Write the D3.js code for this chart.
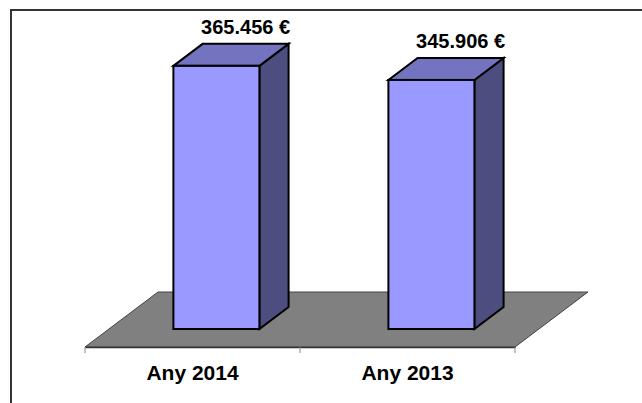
<!DOCTYPE html>
<html>
<head>
<meta charset="utf-8">
<script src="https://cdn.jsdelivr.net/npm/d3@7"></script>
<style>
  html, body { margin: 0; padding: 0; background: #fff; }
  svg { display: block; }
</style>
</head>
<body>
<div id="chart"></div>
<script>
// Import anual – comparativa 2014 / 2013 (columnes 3D)
const CATEGORIES = ["Any 2014", "Any 2013"];
const VALUES = [365456, 345906];
const Y_DOMAIN = [0, 400000];

const totalW = 642, totalH = 403;

/* ── Layout ── */
const floorFront = { left: 85, right: 515, y: 347 };
const floorDepth = { dx: 73, dy: -55 };
const barDepthStart = 18 / 55, barDepthEnd = 40 / 55;

const svg = d3.select("#chart").append("svg")
  .attr("width", totalW).attr("height", totalH);

/* ── Frame ── */
svg.append("rect")
  .attr("x", 11).attr("y", 10).attr("width", 700).attr("height", 450)
  .attr("fill", "#fff").attr("stroke", "#333").attr("stroke-width", 2);

/* ── Scales ── */
const x = d3.scaleBand().domain(CATEGORIES)
  .range([floorFront.left, floorFront.right]);
const h = d3.scaleLinear().domain(Y_DOMAIN).range([0, 288]);

const fmt = d3.formatLocale({ decimal: ",", thousands: ".", grouping: [3], currency: ["", " €"] }).format("$,d");

/* ── Floor ── */
const fl = floorFront;
svg.append("path")
  .attr("d", `M${fl.left},${fl.y} L${fl.left + floorDepth.dx},${fl.y + floorDepth.dy} L${fl.right + floorDepth.dx},${fl.y + floorDepth.dy} L${fl.right},${fl.y} Z`)
  .attr("fill", "#808080").attr("stroke", "#444").attr("stroke-width", 1);

/* ── Category axis ── */
const axis = svg.append("g").attr("transform", `translate(0,${fl.y})`)
  .call(d3.axisBottom(x).tickSize(0).tickPadding(18))
  .call(ax => ax.select(".domain").attr("stroke", "#333").attr("stroke-width", 1.5));
axis.selectAll("text")
  .attr("font-family", "Liberation Sans, Arial, sans-serif")
  .attr("font-size", 21).attr("font-weight", "bold").attr("fill", "#000");

const tickXs = CATEGORIES.map(c => x(c)).concat([fl.right]);
svg.append("g").selectAll("line").data(tickXs).join("line")
  .attr("x1", d => d).attr("x2", d => d)
  .attr("y1", fl.y).attr("y2", fl.y + 6)
  .attr("stroke", "#888").attr("stroke-width", 1);

/* ── Bars ── */
const data = CATEGORIES.map((c, i) => ({ cat: c, value: VALUES[i] }));
const bw = x.bandwidth() * 0.4;

data.forEach(d => {
  const ox = floorDepth.dx * barDepthStart, oy = floorDepth.dy * barDepthStart;
  const ddx = floorDepth.dx * (barDepthEnd - barDepthStart);
  const ddy = floorDepth.dy * (barDepthEnd - barDepthStart);
  const cx = x(d.cat) + x.bandwidth() / 2 + ox;
  const x0 = cx - bw / 2, x1 = cx + bw / 2;
  const yb = fl.y + oy, yt = yb - h(d.value);
  const g = svg.append("g")
    .attr("stroke", "#000").attr("stroke-width", 2).attr("stroke-linejoin", "miter");

  // side face
  g.append("path")
    .attr("d", `M${x1},${yt} L${x1 + ddx},${yt + ddy} L${x1 + ddx},${yb + ddy} L${x1},${yb} Z`)
    .attr("fill", "#4d4d80");
  // top face
  g.append("path")
    .attr("d", `M${x0},${yt} L${x0 + ddx},${yt + ddy} L${x1 + ddx},${yt + ddy} L${x1},${yt} Z`)
    .attr("fill", "#7373bf");
  // front face
  g.append("rect")
    .attr("x", x0).attr("y", yt).attr("width", bw).attr("height", yb - yt)
    .attr("fill", "#9999ff");

  svg.append("text")
    .attr("x", cx + ddx).attr("y", yt + ddy - 10)
    .attr("text-anchor", "middle")
    .attr("font-family", "Liberation Sans, Arial, sans-serif")
    .attr("font-size", 20).attr("font-weight", "bold").attr("fill", "#000")
    .text(fmt(d.value));
});
</script>
</body>
</html>
